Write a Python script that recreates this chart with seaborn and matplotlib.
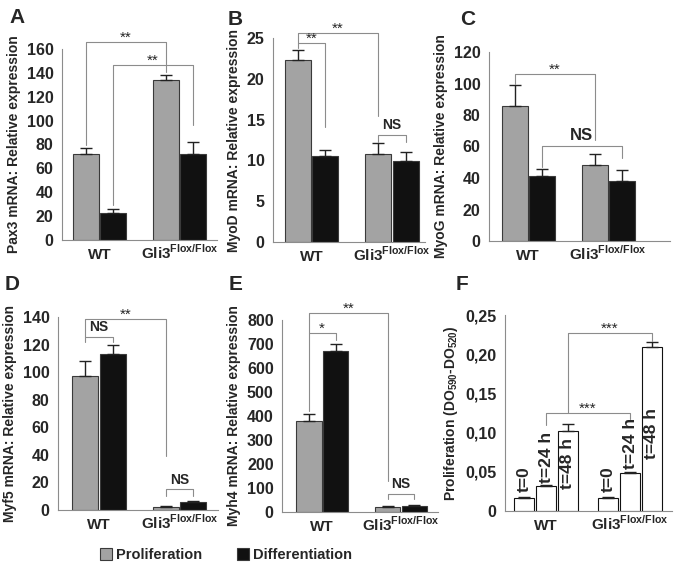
import numpy as np
import pandas as pd
import matplotlib
matplotlib.use("Agg")
import matplotlib.pyplot as plt
from matplotlib.patches import Patch
from matplotlib.ticker import FuncFormatter
import seaborn as sns

groups = ["WT", "Gli3"]
group_labels = ["WT", r"Gli3$^{\mathbf{Flox/Flox}}$"]
conditions = ["Proliferation", "Differentiation"]
timepoints = ["t=0", "t=24 h", "t=48 h"]

# order: WT-prolif, WT-diff, Gli3-prolif, Gli3-diff
pax3_mean = [72, 23, 134, 72]
pax3_err = [5, 3, 4, 10]
myod_mean = [22.3, 10.6, 10.8, 9.9]
myod_err = [1.2, 0.7, 1.3, 1.1]
myog_mean = [86, 41.5, 48, 38]
myog_err = [13, 4, 7, 7]
myf5_mean = [97, 113, 2, 5.5]
myf5_err = [11, 7, 0.6, 0.8]
myh4_mean = [380, 672, 22, 25]
myh4_err = [28, 28, 3, 4]
# order: WT t0, t24, t48, Gli3 t0, t24, t48
prolif_mean = [0.017, 0.032, 0.102, 0.017, 0.049, 0.209]
prolif_err = [0.0012, 0.0012, 0.009, 0.0012, 0.0012, 0.006]
prolif_text_y = [0.024, 0.036, 0.028, 0.024, 0.053, 0.066]

GRAY = "#a3a3a3"
BLACK = "#111111"
LINE = "#8c8c8c"

sns.set_style("white")
plt.rcParams["font.family"] = ["Liberation Sans", "DejaVu Sans"]
plt.rcParams["mathtext.fontset"] = "custom"
plt.rcParams["mathtext.rm"] = "Liberation Sans"
plt.rcParams["mathtext.bf"] = "Liberation Sans:bold"

W, H = 681, 571
fig = plt.figure(figsize=(W / 100, H / 100), dpi=100)


def make_ax(left, top, right, bottom):
    return fig.add_axes([left / W, 1 - bottom / H, (right - left) / W, (bottom - top) / H])


def bars(ax, mean, err, hues, palette, width, gap):
    df = pd.DataFrame({"group": np.repeat(groups, len(hues)),
                       "cond": hues * len(groups),
                       "value": mean})
    sns.barplot(data=df, x="group", y="value", hue="cond", order=groups,
                hue_order=hues, palette=palette, errorbar=None, width=width,
                gap=gap, edgecolor="#3a3a3a", linewidth=0.8, legend=False, ax=ax)
    patches = sorted(ax.patches, key=lambda p: p.get_x())
    centers = {}
    for i, p in enumerate(patches):
        cx = p.get_x() + p.get_width() / 2
        centers[(i // len(hues), i % len(hues))] = cx
        ax.errorbar(cx, mean[i], yerr=[[0], [err[i]]], fmt="none", ecolor="#222222",
                    elinewidth=1, capsize=4, capthick=1)
    return centers


def style(ax, yticks, xlim, ylabel, fmt=None):
    ax.set_xlim(*xlim)
    ax.set_ylim(0, yticks[-1])
    ax.set_yticks(yticks)
    if fmt:
        ax.yaxis.set_major_formatter(FuncFormatter(fmt))
    ax.set_xticks([0, 1])
    ax.set_xticklabels(group_labels, fontsize=11, fontweight="bold")
    for t in ax.get_xticklabels():
        t.set_verticalalignment("baseline")
    ax.set_xticks([0.5], minor=True)
    ax.tick_params(axis="x", which="major", length=0, pad=13.5)
    ax.tick_params(axis="x", which="minor", length=4, color=LINE, direction="out")
    ax.tick_params(axis="y", length=4, color=LINE, direction="out", labelsize=11.5, pad=2)
    for t in ax.get_yticklabels():
        t.set_fontweight("bold")
    for s in ["top", "right"]:
        ax.spines[s].set_visible(False)
    for s in ["left", "bottom"]:
        ax.spines[s].set_color(LINE)
        ax.spines[s].set_linewidth(0.8)
    ax.set_xlabel("")
    ax.set_ylabel(ylabel, fontsize=10, fontweight="bold", labelpad=4)


def bracket(ax, centers, a, b, top, ya, yb, text, size=10):
    x1, x2 = centers[a], centers[b]
    ax.plot([x1, x1, x2, x2], [ya, top, top, yb], color=LINE, lw=0.8, clip_on=False)
    if text == "NS":
        ax.annotate(text, ((x1 + x2) / 2, top), xytext=(0, 2), textcoords="offset points",
                    ha="center", va="bottom", fontsize=size, fontweight="bold",
                    annotation_clip=False)
    else:
        ax.annotate(text, ((x1 + x2) / 2, top), xytext=(0, -2), textcoords="offset points",
                    ha="center", va="bottom", fontsize=11, annotation_clip=False)


pal2 = {"Proliferation": GRAY, "Differentiation": BLACK}

# A
ax = make_ax(62, 49, 217, 240)
c = bars(ax, pax3_mean, pax3_err, conditions, pal2, 0.68, 0.05)
style(ax, list(range(0, 161, 20)), (-0.47, 1.47), "Pax3 mRNA: Relative expression")
bracket(ax, c, (0, 0), (1, 0), 166, 80, 141, "**")
bracket(ax, c, (0, 1), (1, 1), 147, 29, 96, "**")

# B
ax = make_ax(273, 38, 425, 242)
c = bars(ax, myod_mean, myod_err, conditions, pal2, 0.68, 0.05)
style(ax, list(range(0, 26, 5)), (-0.48, 1.41), "MyoD mRNA: Relative expression")
bracket(ax, c, (0, 0), (1, 0), 25.6, 24.4, 15.4, "**")
bracket(ax, c, (0, 0), (0, 1), 24.4, 23.8, 14.1, "**")
bracket(ax, c, (1, 0), (1, 1), 13.1, 12.3, 12.3, "NS")

# C
ax = make_ax(489, 52, 670, 241)
c = bars(ax, myog_mean, myog_err, conditions, pal2, 0.68, 0.05)
style(ax, list(range(0, 121, 20)), (-0.49, 1.77), "MyoG mRNA: Relative expression")
bracket(ax, c, (0, 0), (1, 0), 106, 100, 64, "**")
bracket(ax, c, (0, 1), (1, 1), 60.3, 47, 52.5, "NS", size=12)

# D
ax = make_ax(58, 317, 218, 510)
c = bars(ax, myf5_mean, myf5_err, conditions, pal2, 0.68, 0.05)
style(ax, list(range(0, 141, 20)), (-0.51, 1.48), "Myf5 mRNA: Relative expression")
bracket(ax, c, (0, 0), (1, 0), 138.3, 125.7, 39, "**")
bracket(ax, c, (0, 0), (0, 1), 125.7, 122, 122, "NS")
bracket(ax, c, (1, 0), (1, 1), 15, 10, 10, "NS")

# E
ax = make_ax(282, 320, 438, 512)
c = bars(ax, myh4_mean, myh4_err, conditions, pal2, 0.68, 0.05)
style(ax, list(range(0, 801, 100)), (-0.51, 1.47), "Myh4 mRNA: Relative expression")
bracket(ax, c, (0, 0), (1, 0), 830, 745, 130, "**")
bracket(ax, c, (0, 0), (0, 1), 745, 420, 715, "*")
bracket(ax, c, (1, 0), (1, 1), 75, 55, 55, "NS")

# F
ax = make_ax(505, 315, 672, 511)
palw = {t: "white" for t in timepoints}
c = bars(ax, prolif_mean, prolif_err, timepoints, palw, 0.78, 0.1)
for p in ax.patches:
    p.set_edgecolor("#111111")
style(ax, [0, 0.05, 0.10, 0.15, 0.20, 0.25], (-0.49, 1.5),
      r"Proliferation (DO$_{\mathbf{590}}$-DO$_{\mathbf{520}}$)",
      fmt=lambda v, pos: "0" if v == 0 else f"{v:.2f}".replace(".", ","))
for i, (g, t) in enumerate([(g, t) for g in range(2) for t in range(3)]):
    ax.text(c[(g, t)], prolif_text_y[i], timepoints[t], rotation=90, ha="center",
            va="bottom", fontsize=12.5, fontweight="bold")
bracket(ax, c, (0, 2), (1, 2), 0.2265, 0.125, 0.217, "***")
bracket(ax, c, (0, 1), (1, 1), 0.125, 0.110, 0.117, "***")

# panel letters
for letter, x, y in [("A", 9, 23), ("B", 228, 25), ("C", 460, 25),
                     ("D", 5, 290), ("E", 229, 290), ("F", 456, 290)]:
    fig.text(x / W, 1 - y / H, letter, fontsize=15, fontweight="bold", va="baseline")

handles = [Patch(facecolor=GRAY, edgecolor="#3a3a3a", lw=0.8),
           Patch(facecolor=BLACK, edgecolor="#3a3a3a", lw=0.8)]
fig.legend(handles, conditions, ncol=2, loc="center", frameon=False,
           bbox_to_anchor=(226 / W, 1 - 555 / H), handlelength=0.8, handleheight=0.8,
           handletextpad=0.3, columnspacing=2.4,
           prop={"weight": "bold", "size": 10.5})

fig.savefig("out.png", dpi=100)
